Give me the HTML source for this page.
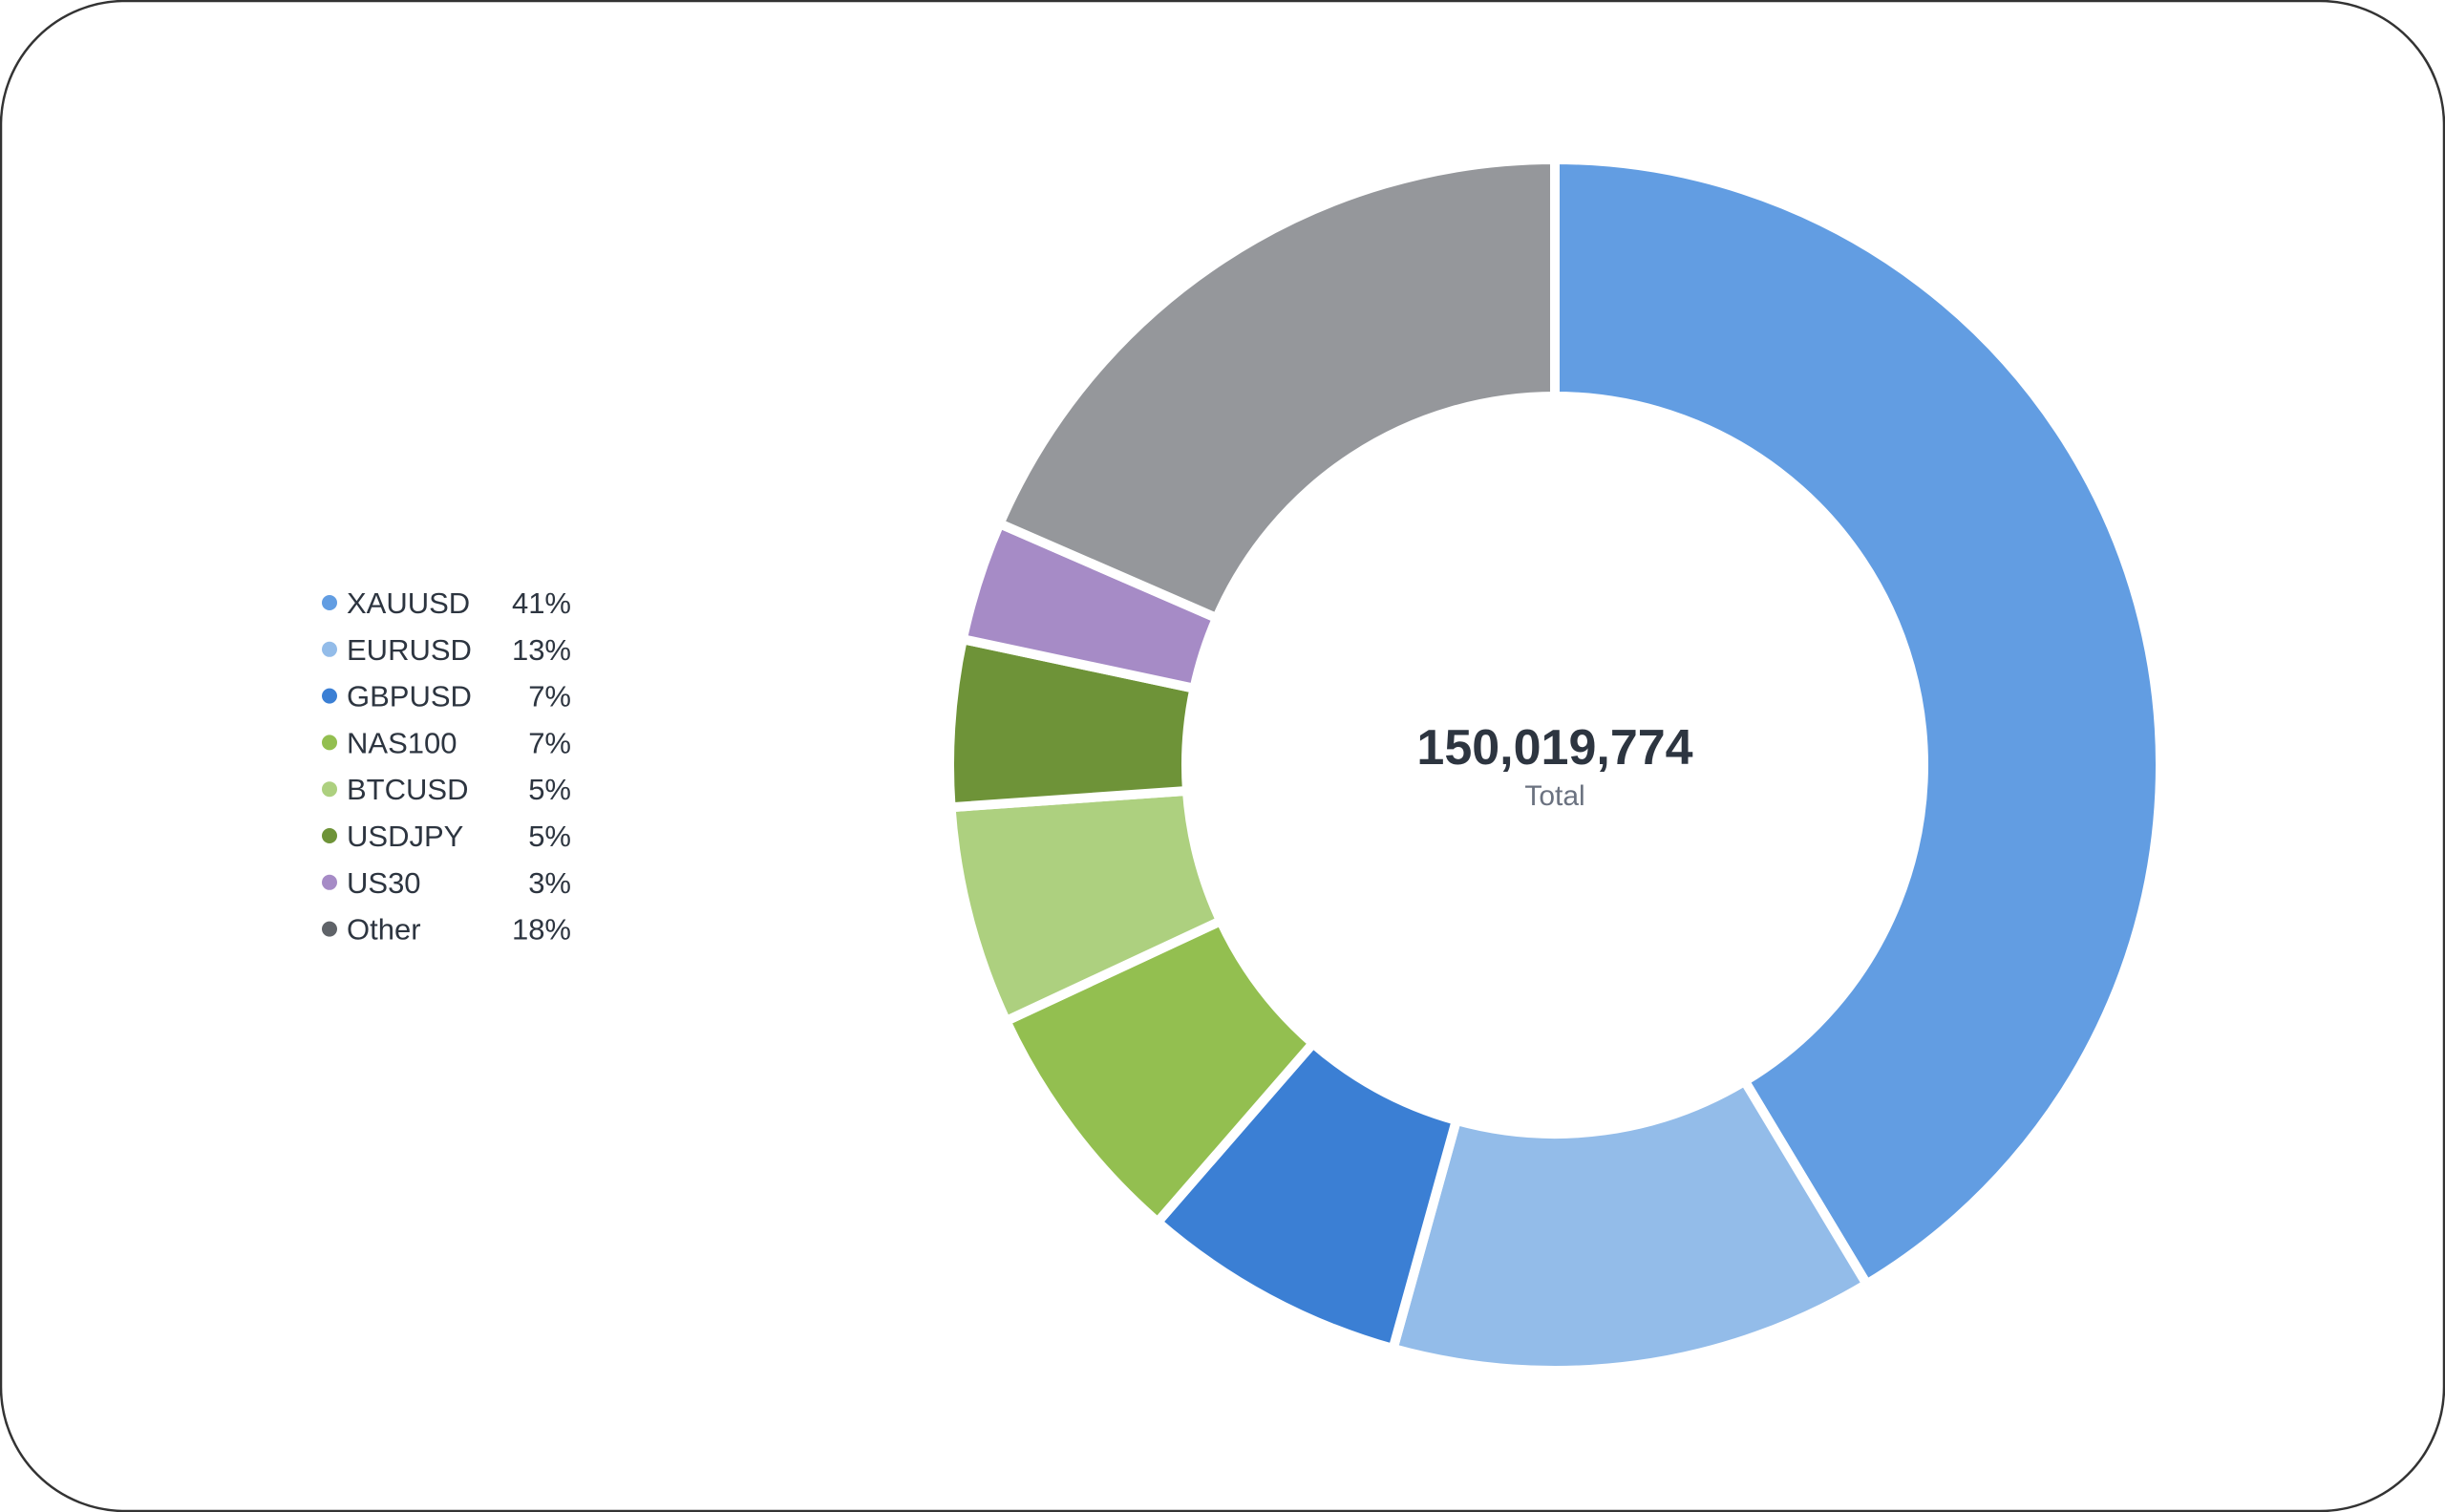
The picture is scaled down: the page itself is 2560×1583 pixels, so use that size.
<!DOCTYPE html>
<html><head><meta charset="utf-8"><style>
html,body{margin:0;padding:0;background:#fff;}
svg{display:block;}
</style></head><body>
<svg id="s" width="2560" height="1583" viewBox="0 0 2560 1583" xmlns="http://www.w3.org/2000/svg">
<rect x="1" y="1" width="2558" height="1581" rx="130" ry="130" fill="#fff" stroke="#333" stroke-width="2.5"/>
<g id="slices"></g>
<g font-family="Liberation Sans, sans-serif" text-anchor="middle">
<text x="1628" y="800" font-size="52" font-weight="bold" fill="#2d3540">150,019,774</text>
<text x="1628" y="843" font-size="30" fill="#6b7280">Total</text>
</g>
<g font-family="Liberation Sans, sans-serif" font-size="31" fill="#2d3540" id="legend"></g>
</svg>
<script>
var cx=1628,cy=801,R=634,r=386;
var b=[0,149,195.5,221,245,266,282,293.5,360];
var cols=["#629de2","#93bce9","#3b7fd4","#93bf50","#add07f","#6e9338","#a68bc6","#95979b"];
var ns="http://www.w3.org/2000/svg";
function pt(a,rad){var t=a*Math.PI/180;return [cx+rad*Math.sin(t),cy-rad*Math.cos(t)];}
var g=document.getElementById("slices");
for(var i=0;i<8;i++){
 var a0=b[i],a1=b[i+1],lg=(a1-a0)>180?1:0;
 var p1=pt(a0,R),p2=pt(a1,R),p3=pt(a1,r),p4=pt(a0,r);
 var d="M"+p1+" A"+R+" "+R+" 0 "+lg+" 1 "+p2+" L"+p3+" A"+r+" "+r+" 0 "+lg+" 0 "+p4+"Z";
 var p=document.createElementNS(ns,"path");
 p.setAttribute("d",d);p.setAttribute("fill",cols[i]);p.setAttribute("stroke","#fff");p.setAttribute("stroke-width","10");p.setAttribute("stroke-linejoin","miter");
 g.appendChild(p);
}
var names=["XAUUSD","EURUSD","GBPUSD","NAS100","BTCUSD","USDJPY","US30","Other"];
var pcts=["41%","13%","7%","7%","5%","5%","3%","18%"];
var lc=["#629de2","#93bce9","#3b7fd4","#93bf50","#add07f","#6e9338","#a68bc6","#5f6368"];
var L=document.getElementById("legend");
for(var i=0;i<8;i++){
 var y=631+i*48.8;
 var c=document.createElementNS(ns,"circle");c.setAttribute("cx",345);c.setAttribute("cy",y);c.setAttribute("r",8);c.setAttribute("fill",lc[i]);L.appendChild(c);
 var t=document.createElementNS(ns,"text");t.setAttribute("x",363);t.setAttribute("y",y+11);t.textContent=names[i];L.appendChild(t);
 var t2=document.createElementNS(ns,"text");t2.setAttribute("x",598);t2.setAttribute("y",y+11);t2.setAttribute("text-anchor","end");t2.textContent=pcts[i];L.appendChild(t2);
}
</script>
</body></html>
